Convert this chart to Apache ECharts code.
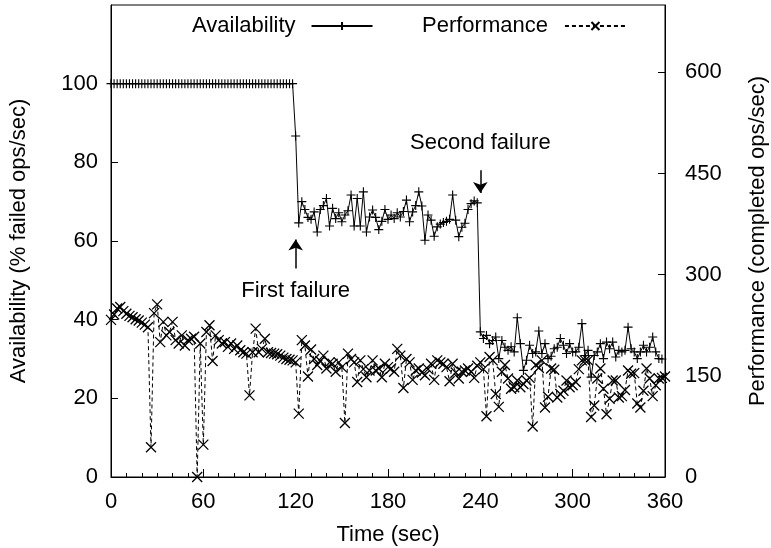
<!DOCTYPE html>
<html><head><meta charset="utf-8">
<script src="https://cdn.jsdelivr.net/npm/echarts@6/dist/echarts.min.js"></script>
<style>html,body{margin:0;padding:0;background:#fff}#c{width:771px;height:548px}</style>
</head><body><div id="c"></div>
<script>
const times = [0,2,4,6,8,10,12,14,16,18,20,22,24,26,28,30,32,34,36,38,40,42,44,46,48,50,52,54,56,58,
60,62,64,66,68,70,72,74,76,78,80,82,84,86,88,90,92,94,96,98,100,102,104,106,108,110,112,114,116,118,
120,122,124,126,128,130,132,134,136,138,140,142,144,146,148,150,152,154,156,158,160,162,164,166,168,170,172,174,176,178,
180,182,184,186,188,190,192,194,196,198,200,202,204,206,208,210,212,214,216,218,220,222,224,226,228,230,232,234,236,238,
240,242,244,246,248,250,252,254,256,258,260,262,264,266,268,270,272,274,276,278,280,282,284,286,288,290,292,294,296,298,
300,302,304,306,308,310,312,314,316,318,320,322,324,326,328,330,332,334,336,338,340,342,344,346,348,350,352,354,356,358,360];

const availability = [
100,100,100,100,100,100,100,100,100,100,100,100,100,100,100,100,100,100,100,100,100,100,100,100,100,100,100,100,100,100,
100,100,100,100,100,100,100,100,100,100,100,100,100,100,100,100,100,100,100,100,100,100,100,100,100,100,100,100,100,100,
86.7,64.6,70,68,66,65.5,67.4,62.3,68,69,70.8,63.8,68.3,65.7,67.2,64.9,66.6,67.7,71.7,63.8,70.8,63.8,72.5,62.3,66.1,67.9,66,62.9,65,68,
65.5,66.6,65.7,67.2,66.1,67.5,70.4,64.9,67.4,69,72.5,68.9,60.2,66.6,65.3,61.2,63.6,64.3,64.7,65,65.5,71.7,65.3,61.1,63.5,64.5,68,69.5,70.2,69.7,
36.9,35.2,36,33.9,34.7,35.6,30.1,34.7,33,32.2,33.1,31.8,40.5,33.9,27.1,29.7,33.5,31.4,31.8,37.1,31.4,33.9,30.1,30.7,32.6,33,35.2,33.5,31.4,33.9,
31.8,31.8,33,39,30.9,32.2,25.4,30.9,31.8,33.9,30.1,34.3,32.6,34.3,30.5,32.2,31.8,32.2,38.1,32.6,31.8,30.1,31.8,33.5,31.8,33,35.6,31.8,30.1,30,null];

const performance = [
233,241,250,252,246,242,239,237,234,232,229,226,222,
44,243,256,200,230,210,215,230,203,198,210,195,203,205,208,0,198,
48,215,225,172,210,203,198,200,193,198,190,195,188,185,183,121,185,220,185,190,205,185,184,183,182,180,177,175,174,173,
170,94,203,195,149,189,175,166,172,180,161,170,168,156,170,163,80,183,175,170,141,173,160,148,158,173,158,161,148,168,
163,161,156,190,180,132,175,170,144,158,161,155,151,160,168,144,173,170,168,163,142,168,155,146,156,158,161,156,147,165,
170,160,90,178,173,123,104,156,166,146,131,133,143,133,138,143,147,75,166,162,173,103,119,161,159,118,123,128,143,133,
136,141,160,173,173,173,89,106,146,161,131,93,116,143,143,118,120,129,158,153,154,109,103,128,161,146,120,136,146,147,149];

const xTicks = [0, 60, 120, 180, 240, 300, 360];
const leftTicks = [0, 20, 40, 60, 80, 100];
const rightTicks = [0, 150, 300, 450, 600];
const seriesNames = ['Availability', 'Performance'];
const annotations = [
  {text: 'First failure', t: 120, labelY: 47.3, arrowFrom: 53, arrowTo: 60.4},
  {text: 'Second failure', t: 240, labelY: 85, arrowFrom: 78, arrowTo: 72.2}
];

const FONT = 'Liberation Sans, Arial, Helvetica, sans-serif';
const FS = 22;
const PLUS = 'path://M5,0L5,10M0,5L10,5';
const CROSS = 'path://M0,0L10,10M10,0L0,10';

const chart = echarts.init(document.getElementById('c'), null, {renderer: 'canvas'});

const textStyle = {fontFamily: FONT, fontSize: FS, color: '#000'};

const option = {
  animation: false,
  backgroundColor: '#fff',
  textStyle: textStyle,
  grid: {left: 111, right: 106, top: 5, bottom: 71, show: true, borderColor: '#000', borderWidth: 1,
         backgroundColor: 'transparent', containLabel: false, outerBoundsMode: 'none'},
  legend: [
    {data: [seriesNames[0]], left: 192, top: 15, padding: 0, align: 'right', itemWidth: 61, itemHeight: 10, itemGap: 0,
     textStyle: Object.assign({}, textStyle, {padding: [0, 11, 0, 0]}), selectedMode: false},
    {data: [seriesNames[1]], left: 422, top: 15, padding: 0, align: 'right', itemWidth: 61, itemHeight: 10, itemGap: 0,
     textStyle: Object.assign({}, textStyle, {padding: [0, 12, 0, 0]}), selectedMode: false}
  ],
  xAxis: {
    type: 'value', min: xTicks[0], max: xTicks[xTicks.length - 1], interval: 60,
    name: 'Time (sec)', nameLocation: 'middle', nameGap: 47,
    nameTextStyle: textStyle,
    axisLine: {show: true, lineStyle: {color: '#000', width: 1}},
    axisTick: {show: true, inside: true, length: 8, lineStyle: {color: '#000'}},
    minorTick: {show: true, splitNumber: 6, length: 4, lineStyle: {color: '#000'}},
    axisLabel: Object.assign({}, textStyle, {margin: 14}),
    splitLine: {show: false}
  },
  yAxis: [
    {
      type: 'value', min: 0, max: 120, interval: 20, position: 'left',
      name: 'Availability (% failed ops/sec)', nameLocation: 'middle', nameGap: 81, nameRotate: 90,
      nameTextStyle: textStyle,
      axisLine: {show: true, lineStyle: {color: '#000'}},
      axisTick: {show: true, inside: true, length: 7, lineStyle: {color: '#000'}},
      axisLabel: Object.assign({}, textStyle, {margin: 13, showMaxLabel: false,
        formatter: v => leftTicks.indexOf(v) >= 0 ? String(v) : ''}),
      splitLine: {show: false}
    },
    {
      type: 'value', min: 0, max: 700, interval: 150, position: 'right',
      name: 'Performance (completed ops/sec)', nameLocation: 'middle', nameGap: 82, nameRotate: 90,
      nameTextStyle: textStyle,
      axisLine: {show: true, lineStyle: {color: '#000'}},
      axisTick: {show: true, inside: true, length: 7, lineStyle: {color: '#000'}},
      axisLabel: Object.assign({}, textStyle, {margin: 20, showMaxLabel: false,
        formatter: v => rightTicks.indexOf(v) >= 0 ? String(v) : ''}),
      splitLine: {show: false}
    }
  ],
  series: [
    {
      name: seriesNames[0], type: 'line', yAxisIndex: 0,
      data: times.map((t, i) => [t, availability[i]]),
      symbol: PLUS, symbolSize: 9, showAllSymbol: true, connectNulls: false,
      lineStyle: {color: '#000', width: 1, type: 'solid'},
      itemStyle: {color: '#000', borderColor: '#000', borderWidth: 1.1},
      emphasis: {disabled: true},
      markLine: {
        silent: true, animation: false,
        symbol: ['none', 'arrow'], symbolSize: [11, 11],
        label: {show: false},
        lineStyle: {color: '#000', width: 1.5, type: 'solid'},
        data: annotations.map(a => [{coord: [a.t, a.arrowFrom]}, {coord: [a.t, a.arrowTo]}])
      },
      markPoint: {
        silent: true, animation: false,
        symbol: 'circle', symbolSize: 0,
        label: {show: true, position: 'inside', fontFamily: FONT, fontSize: FS, color: '#000'},
        data: annotations.map(a => ({coord: [a.t, a.labelY], value: a.text, label: {formatter: a.text}}))
      }
    },
    {
      name: seriesNames[1], type: 'line', yAxisIndex: 1,
      data: times.map((t, i) => [t, performance[i]]),
      symbol: CROSS, symbolSize: 10, showAllSymbol: true,
      lineStyle: {color: '#000', width: 1, type: [4, 3]},
      itemStyle: {color: '#000', borderColor: '#000', borderWidth: 1.3},
      emphasis: {disabled: true}
    }
  ]
};
chart.setOption(option);
</script>
</body></html>
